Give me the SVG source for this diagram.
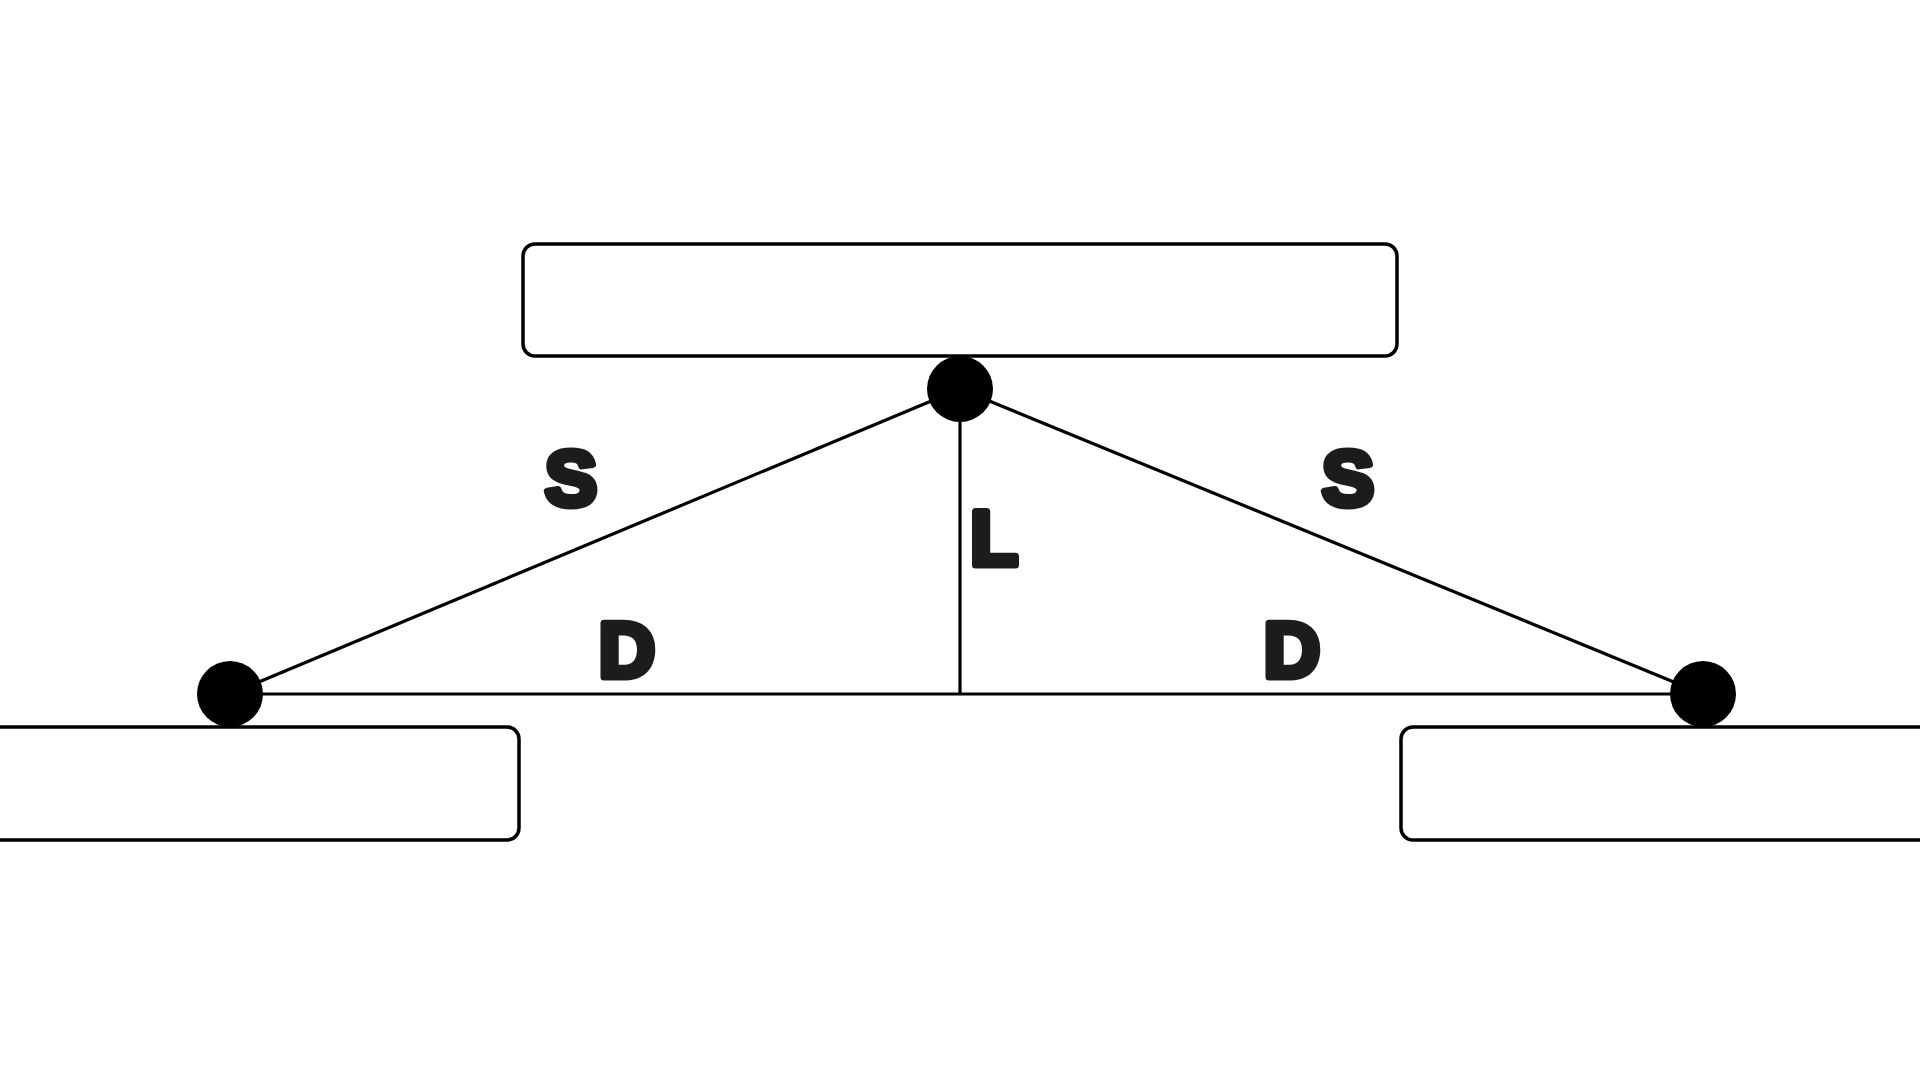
<svg xmlns="http://www.w3.org/2000/svg" width="1920" height="1080" viewBox="0 0 1920 1080">
  <style>
    .box { fill: #ffffff; stroke: #000000; stroke-width: 3.5; }
    .edge { stroke: #000000; stroke-width: 3.2; fill: none; }
    .dot { fill: #000000; }
    .lbl { font-family: "Liberation Sans", Arial, sans-serif; font-weight: bold; font-size: 78px; fill: #1c1c1c; stroke: #1c1c1c; stroke-width: 7; stroke-linejoin: round; text-anchor: middle; }
  </style>
  <rect width="1920" height="1080" fill="#ffffff"/>
  <g id="box-top"><rect class="box" x="523" y="244" width="874" height="112" rx="12"/></g>
  <g id="box-left"><rect class="box" x="-30" y="727" width="549" height="113" rx="12"/></g>
  <g id="box-right"><rect class="box" x="1401" y="727" width="560" height="113" rx="12"/></g>
  <g id="connectors">
    <line class="edge" x1="960" y1="389" x2="230" y2="694"/>
    <line class="edge" x1="960" y1="389" x2="1703" y2="694"/>
    <line class="edge" x1="960" y1="389" x2="960" y2="694"/>
    <line class="edge" x1="230" y1="694" x2="1703" y2="694"/>
  </g>
  <g id="node-top"><circle class="dot" cx="960" cy="389" r="33"/></g>
  <g id="node-left"><circle class="dot" cx="230" cy="694" r="33"/></g>
  <g id="node-right"><circle class="dot" cx="1703" cy="694" r="33"/></g>
  <g id="labels">
    <text class="lbl" x="571" y="505">S</text>
    <text class="lbl" x="1348" y="505">S</text>
    <text class="lbl" x="994" y="565">L</text>
    <text class="lbl" x="627" y="677">D</text>
    <text class="lbl" x="1292" y="677">D</text>
  </g>
</svg>
